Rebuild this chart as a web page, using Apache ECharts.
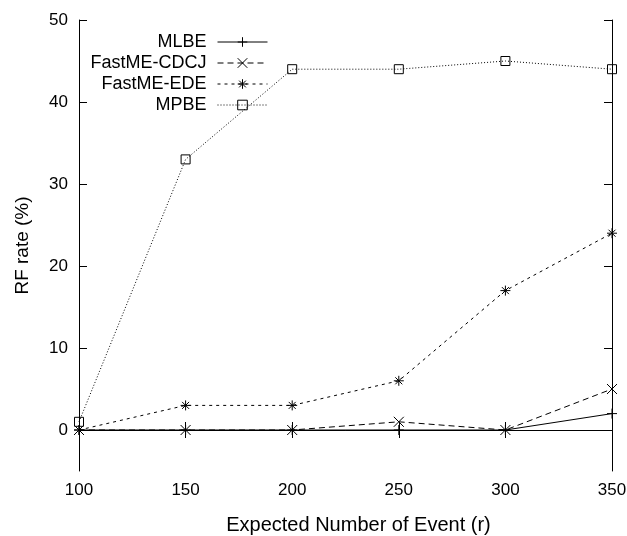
<!DOCTYPE html>
<html>
<head>
<meta charset="utf-8">
<script src="https://cdn.jsdelivr.net/npm/echarts@6/dist/echarts.min.js"></script>
<style>
html, body { margin: 0; padding: 0; background: #fff; }
#myChart { width: 627px; height: 536px; }
</style>
</head>
<body>
<div id="myChart"></div>
<script>
// 数据
const events = [100, 150, 200, 250, 300, 350]
const mlbe = [0, 0, 0, 0, 0, 2]
const cdcj = [0, 0, 0, 1, 0, 5]
const ede = [0, 3, 3, 6, 17, 24]
const mpbe = [1, 33, 44, 44, 45, 44]
const yTicks = [0, 10, 20, 30, 40, 50]

const seriesNames = ['MLBE', 'FastME-CDCJ', 'FastME-EDE', 'MPBE']
const seriesData = [mlbe, cdcj, ede, mpbe]
const symbols = [
  'path://M0,5L10,5M5,0L5,10',
  'path://M0,0L10,10M10,0L0,10',
  'path://M0,5L10,5M5,0L5,10M1.5,1.5L8.5,8.5M8.5,1.5L1.5,8.5',
  'rect',
]
const dashes = ['solid', [6, 4], [3, 4], [1, 2]]
const font = 'Liberation Sans'

let myChart = echarts.init(document.getElementById('myChart'))

let series = seriesNames.map((name, i) => ({
  name: name,
  type: 'line',
  data: events.map((x, j) => [x, seriesData[i][j]]),
  symbol: symbols[i],
  symbolSize: i === 3 ? 9 : 10,
  showAllSymbol: true,
  lineStyle: { color: '#000', width: 1, type: dashes[i] },
  itemStyle: { color: 'none', borderColor: '#000', borderWidth: 1 },
  z: 10 - i,
}))

// 每个图例单独放，实现右对齐
let legends = seriesNames.map((name, i) => ({
  data: [name],
  right: 359,
  top: 32 + i * 21,
  padding: 0,
  align: 'right',
  itemWidth: 50,
  itemHeight: 12,
  lineStyle: { width: 1 },
  itemStyle: { borderWidth: 1 },
  textStyle: { fontFamily: font, fontSize: 18, lineHeight: 20, color: '#000', padding: [0, 6, 0, 0] },
  selectedMode: false,
}))

const axisCommon = {
  axisLine: { lineStyle: { color: '#000', width: 1 } },
  splitLine: { show: false },
}

myChart.setOption({
  animation: false,
  grid: { left: 79, right: 15, top: 20, bottom: 65, outerBoundsMode: 'none' },
  legend: legends,
  xAxis: [
    Object.assign({
      type: 'value', min: 100, max: 350, interval: 50,
      name: 'Expected Number of Event (r)', nameLocation: 'middle', nameGap: 44,
      nameTextStyle: { fontFamily: font, fontSize: 20, color: '#000', padding: [0, 0, 0, 26] },
      axisTick: { inside: true, length: 8, lineStyle: { color: '#000' } },
      axisLabel: { fontFamily: font, fontSize: 17, color: '#000', margin: 11 },
    }, axisCommon),
    Object.assign({
      type: 'value', min: 100, max: 350, interval: 50, position: 'top',
      axisTick: { inside: true, length: 8, lineStyle: { color: '#000' } },
      axisLabel: { show: false },
    }, axisCommon),
  ],
  yAxis: [
    Object.assign({
      type: 'value', min: -5, max: 50,
      name: 'RF rate (%)', nameLocation: 'middle', nameGap: 47,
      nameTextStyle: { fontFamily: font, fontSize: 19, color: '#000' },
      axisTick: { inside: true, length: 8, lineStyle: { color: '#000' }, customValues: yTicks },
      axisLabel: { fontFamily: font, fontSize: 17, color: '#000', margin: 11, customValues: yTicks },
    }, axisCommon),
    Object.assign({
      type: 'value', min: -5, max: 50, position: 'right',
      axisTick: { inside: true, length: 8, lineStyle: { color: '#000' }, customValues: yTicks },
      axisLabel: { show: false, customValues: yTicks },
    }, axisCommon),
  ],
  series: series,
})
</script>
</body>
</html>
